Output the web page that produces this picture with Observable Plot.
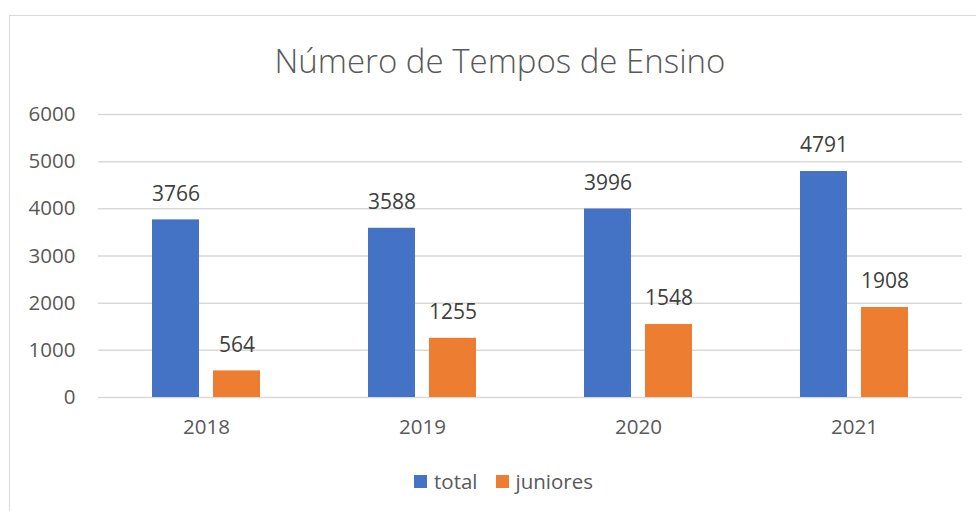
<!DOCTYPE html>
<html>
<head>
<meta charset="utf-8">
<script src="https://cdn.jsdelivr.net/npm/d3@7"></script>
<script src="https://cdn.jsdelivr.net/npm/@observablehq/plot@0.6"></script>
<style>
  html, body { margin: 0; padding: 0; background: #fff; }
  #wrap { position: relative; width: 976px; height: 511px; overflow: hidden; font-family: "Open Sans", sans-serif; }
  #frame { position: absolute; left: 9px; top: 15px; width: 1000px; height: 520px; border: 1px solid #d9d9d9; box-sizing: border-box; }
  #title { position: absolute; left: 0; top: 38px; width: 1000px; text-align: center; font-size: 33px; font-weight: 300; color: #595959; }
  #chart { position: absolute; left: 0; top: 0; }
  #legend { position: absolute; top: 467px; left: 414px; display: flex; align-items: center; font-size: 20.5px; color: #595959; }
  .sw { width: 13px; height: 13px; display: inline-block; margin-right: 7px; }
</style>
</head>
<body>
<div id="wrap">
  <div id="frame"></div>
  <div id="title">Número de Tempos de Ensino</div>
  <div id="chart"></div>
  <div id="legend">
    <span class="sw" style="background:#4472C4"></span><span style="margin-right:18px">total</span>
    <span class="sw" style="background:#ED7D31"></span><span>juniores</span>
  </div>
</div>
<script>
const years = ["2018", "2019", "2020", "2021"];
const series = ["total", "juniores"];
const totalValues = [3766, 3588, 3996, 4791];
const juniorValues = [564, 1255, 1548, 1908];
const yTicks = [0, 1000, 2000, 3000, 4000, 5000, 6000];
const colors = ["#4472C4", "#ED7D31"];

const data = [];
years.forEach((y, i) => {
  data.push({year: y, series: "total", value: totalValues[i]});
  data.push({year: y, series: "juniores", value: juniorValues[i]});
});

const chart = Plot.plot({
  width: 976,
  height: 450,
  marginTop: 114,
  marginBottom: 53,
  marginLeft: 97,
  marginRight: 13,
  style: {fontFamily: "Open Sans, sans-serif", background: "transparent", color: "#595959"},
  fx: {domain: years, padding: 0, label: null},
  x: {domain: series, paddingInner: 0.226, paddingOuter: 0.859, axis: null},
  y: {domain: [0, 6000], label: null},
  color: {domain: series, range: colors},
  marks: [
    Plot.ruleY(yTicks, {stroke: "#d9d9d9", strokeWidth: 1.5}),
    Plot.axisY({ticks: yTicks, tickFormat: d => String(d), tickSize: 0, tickPadding: 23, fontSize: 20.5, label: null, fill: "#595959"}),
    Plot.axisFx({anchor: "bottom", tickSize: 0, tickPadding: 22, fontSize: 20.5, label: null, fill: "#595959"}),
    Plot.barY(data, {fx: "year", x: "series", y: "value", fill: "series"}),
    Plot.text(data, {fx: "year", x: "series", y: "value", text: d => String(d.value), dy: -26, fontSize: 21, fill: "#404040"})
  ]
});
document.getElementById("chart").appendChild(chart);
</script>
</body>
</html>
